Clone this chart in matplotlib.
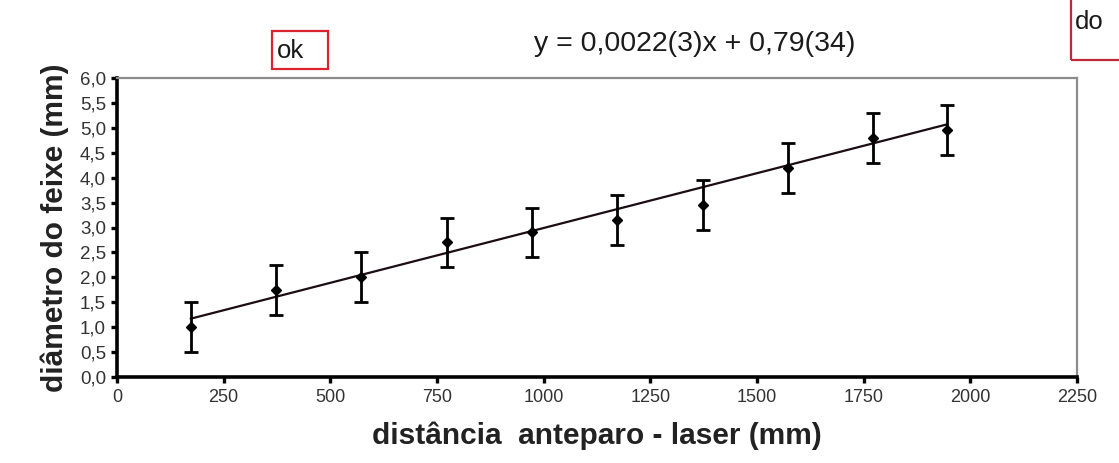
import numpy as np
import matplotlib
matplotlib.use("Agg")
import matplotlib.pyplot as plt
from matplotlib.patches import Rectangle

# Measured beam diameter vs screen-laser distance
distance_mm = [173, 372, 571, 773, 972, 1172, 1374, 1572, 1773, 1945]
diameter_mm = [1.01, 1.75, 2.01, 2.70, 2.90, 3.15, 3.45, 4.19, 4.79, 4.95]
diameter_err = [0.5, 0.5, 0.5, 0.5, 0.5, 0.5, 0.5, 0.5, 0.5, 0.5]

# Linear fit coefficients (as written in the equation)
slope = 0.0022
intercept = 0.79
fit_label = "y = 0,0022(3)x + 0,79(34)"

x_ticks = [0, 250, 500, 750, 1000, 1250, 1500, 1750, 2000, 2250]
y_ticks = [0.0, 0.5, 1.0, 1.5, 2.0, 2.5, 3.0, 3.5, 4.0, 4.5, 5.0, 5.5, 6.0]

plt.rcParams['font.family'] = ['Liberation Sans', 'DejaVu Sans']

W, H = 1119, 463
fig = plt.figure(figsize=(W / 100, H / 100), dpi=100)
fig.patch.set_facecolor('white')

ax = fig.add_axes([117 / W, (H - 377) / H, 960 / W, 299 / H])
ax.set_xlim(0, 2250)
ax.set_ylim(0, 6.0)

# fit line across the measured range
xf = np.array([distance_mm[0], distance_mm[-1]])
ax.plot(xf, slope * xf + intercept, color='#1c0c14', lw=1.6, zorder=2)

ax.errorbar(distance_mm, diameter_mm, yerr=diameter_err, fmt='D', color='black',
            ms=5, ecolor='black', elinewidth=2.0, capsize=5, capthick=2.0, zorder=3)

# spines: heavy black left/bottom, thin gray top/right
for side in ('left', 'bottom'):
    ax.spines[side].set_color('black')
    ax.spines[side].set_linewidth(2.6)
for side in ('top', 'right'):
    ax.spines[side].set_color('#8c8c8c')
    ax.spines[side].set_linewidth(1.6)

ax.set_xticks(x_ticks)
ax.set_xticklabels([str(v) for v in x_ticks])
ax.set_yticks(y_ticks)
ax.set_yticklabels([f"{v:.1f}".replace('.', ',') for v in y_ticks])
ax.tick_params(axis='both', direction='out', length=4, width=2.4, color='black')
ax.tick_params(axis='y', labelsize=13.5, labelcolor='#333333', pad=4)
ax.tick_params(axis='x', labelsize=13, labelcolor='#333333', pad=5)

ax.set_xlabel("distância  anteparo - laser (mm)", fontsize=21.5, fontweight='bold',
              color='#222222', labelpad=11)
ax.set_ylabel("diâmetro do feixe (mm)", fontsize=21.5, fontweight='bold',
              color='#222222', labelpad=8)

# equation of the fitted line
fig.text(695 / W, 1 - 44 / H, fit_label, ha='center', va='center',
         fontsize=20.5, color='#1a1a1a')

# boxed annotations
fig.patches.append(Rectangle((272 / W, 1 - 69 / H), 56 / W, 38 / H,
                             transform=fig.transFigure, fill=False,
                             edgecolor='#d9232e', lw=1.6))
fig.text(277 / W, 1 - 51 / H, "ok", ha='left', va='center', fontsize=18.5,
         color='#1a1a1a')
fig.patches.append(Rectangle((1071 / W, 1 - 60 / H), 100 / W, 80 / H,
                             transform=fig.transFigure, fill=False,
                             edgecolor='#c0283a', lw=1.6))
fig.text(1075 / W, 1 - 22 / H, "do", ha='left', va='center', fontsize=18.5,
         color='#1a1a1a')

fig.savefig("out.png", dpi=100, facecolor='white')
